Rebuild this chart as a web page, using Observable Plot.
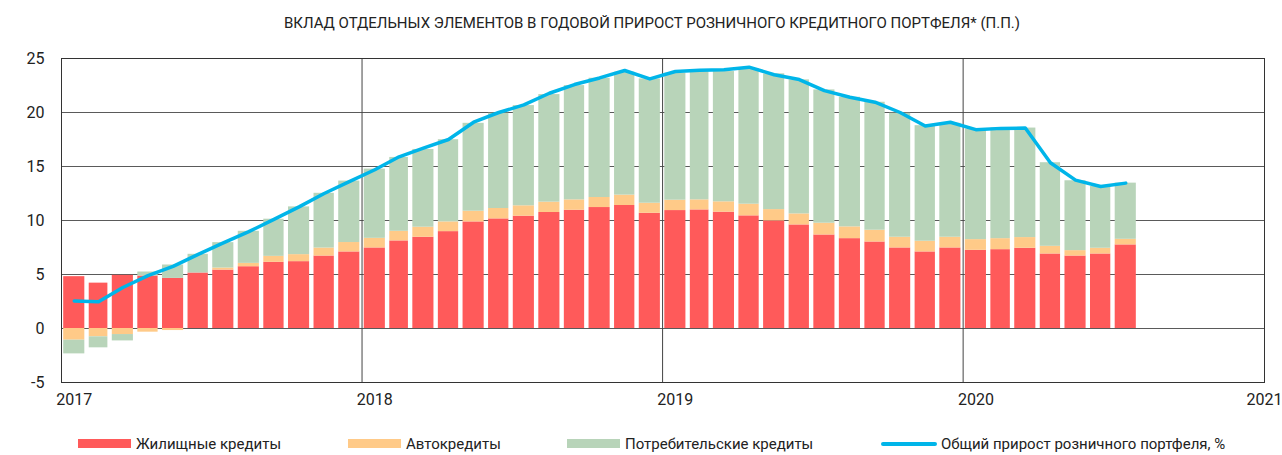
<!DOCTYPE html>
<html><head><meta charset="utf-8">
<script src="https://cdn.jsdelivr.net/npm/d3@7"></script>
<script src="https://cdn.jsdelivr.net/npm/@observablehq/plot@0.6"></script>
<style>
body{margin:0;background:#fff;font-family:Roboto,sans-serif;color:#222;overflow:hidden;width:1282px;height:455px;position:relative;}
#title{height:40px;position:relative;}
#title span{position:absolute;left:652px;top:14px;transform:translateX(-50%);white-space:nowrap;font-size:15px;line-height:18px;color:#222;}
#chart{height:385px;}
#chart svg{display:block;}
#legend{position:relative;height:30px;font-size:15px;color:#222;}
.sw{position:absolute;top:14px;height:9px;width:53px;}
.ln{position:absolute;top:17px;height:4px;width:56px;border-radius:2px;}
.lt{position:absolute;top:10px;line-height:18px;white-space:nowrap;}
</style></head>
<body>
<div id="title"><span>ВКЛАД ОТДЕЛЬНЫХ ЭЛЕМЕНТОВ В ГОДОВОЙ ПРИРОСТ РОЗНИЧНОГО КРЕДИТНОГО ПОРТФЕЛЯ* (П.П.)</span></div>
<div id="chart"></div>
<div id="legend"></div>
<script>
const months = ["2017-01","2017-02","2017-03","2017-04","2017-05","2017-06","2017-07","2017-08","2017-09","2017-10","2017-11","2017-12",
"2018-01","2018-02","2018-03","2018-04","2018-05","2018-06","2018-07","2018-08","2018-09","2018-10","2018-11","2018-12",
"2019-01","2019-02","2019-03","2019-04","2019-05","2019-06","2019-07","2019-08","2019-09","2019-10","2019-11","2019-12",
"2020-01","2020-02","2020-03","2020-04","2020-05","2020-06","2020-07"];
const seriesNames = ["Жилищные кредиты","Автокредиты","Потребительские кредиты"];
const lineName = "Общий прирост розничного портфеля, %";
const housing = [4.80,4.20,4.92,4.86,4.64,5.14,5.41,5.72,6.13,6.19,6.71,7.09,
7.46,8.11,8.45,8.97,9.87,10.15,10.40,10.74,10.95,11.20,11.39,10.67,
10.92,10.98,10.77,10.43,9.96,9.59,8.66,8.32,8.01,7.46,7.09,7.46,
7.24,7.30,7.43,6.90,6.71,6.90,7.74];
const auto = [-1.08,-0.77,-0.56,-0.34,-0.19,0.00,0.19,0.31,0.55,0.65,0.74,0.87,
0.89,0.89,0.93,0.90,0.99,0.96,0.96,0.96,0.96,0.93,0.96,0.93,
0.96,0.93,0.96,1.08,1.05,1.02,1.09,1.09,1.09,0.99,0.99,0.99,
0.99,1.02,0.99,0.71,0.50,0.53,0.52];
const consumer = [-1.27,-1.02,-0.59,0.37,1.24,1.73,2.35,2.97,3.44,4.42,5.07,5.69,
6.41,6.84,7.20,7.61,8.14,8.82,9.28,9.96,10.58,11.04,11.38,11.51,
11.76,11.88,12.06,12.53,12.57,12.41,12.34,12.00,11.85,11.48,10.70,10.55,
10.24,10.24,10.14,7.74,6.47,5.72,5.20];
const total = [2.54,2.48,3.80,4.90,5.75,6.87,7.92,8.97,10.10,11.26,12.50,13.60,
14.70,15.90,16.70,17.50,19.10,20.00,20.70,21.78,22.59,23.20,23.89,23.11,
23.80,23.92,23.95,24.20,23.50,23.05,22.03,21.41,20.95,20.00,18.75,19.10,
18.41,18.53,18.56,15.35,13.74,13.15,13.46];
const yearLabels = ["2017","2018","2019","2020","2021"];
const yTicks = [-5,0,5,10,15,20,25];
const gridValues = [0,5,10,15,20];
const colors = ["#ff5a5a","#ffca88","#b8d4b9"];
const lineColor = "#00b5e9";

const values = [housing, auto, consumer];
const parse = s => new Date(s + "-01T00:00:00Z");
const rows = [];
const lineRows = [];
months.forEach((m, i) => {
  const start = parse(m), end = d3.utcMonth.offset(start, 1);
  let pos = 0, neg = 0;
  values.forEach((arr, k) => {
    const v = arr[i];
    let y1, y2;
    if (v >= 0) { y1 = pos; y2 = pos + v; pos = y2; } else { y1 = neg; y2 = neg + v; neg = y2; }
    rows.push({start, end, y1, y2, series: seriesNames[k]});
  });
  lineRows.push({mid: new Date((+start + +end) / 2), total: total[i]});
});
const yearDates = yearLabels.map(y => new Date(y + "-01-01T00:00:00Z"));
const labelRows = yearLabels.map((y, i) => ({
  label: y,
  pos: i < yearLabels.length - 1 ? new Date((+yearDates[i] + +d3.utcMonth.offset(yearDates[i], 1)) / 2) : yearDates[i]
}));

const chart = Plot.plot({
  width: 1282, height: 385,
  marginTop: 18, marginBottom: 43, marginLeft: 61, marginRight: 18,
  style: {fontFamily: "Roboto, sans-serif", fontSize: "16px", color: "#222", background: "#fff"},
  x: {type: "utc", domain: [yearDates[0], yearDates[yearDates.length - 1]], axis: null},
  y: {domain: [-5, 25], axis: null},
  color: {domain: seriesNames, range: colors},
  marks: [
    Plot.ruleY(gridValues, {stroke: "#5a5a5a", strokeWidth: 1}),
    Plot.ruleX(yearDates.slice(1, -1), {stroke: "#444", strokeWidth: 1}),
    Plot.rect(rows, {x1: "start", x2: "end", y1: "y1", y2: "y2", fill: "series", insetLeft: 2.2, insetRight: 2.2}),
    Plot.line(lineRows, {x: "mid", y: "total", stroke: lineColor, strokeWidth: 3.5, strokeLinejoin: "round", strokeLinecap: "round"}),
    Plot.frame({stroke: "#333", strokeWidth: 1}),
    Plot.axisY(yTicks, {tickSize: 0, tickPadding: 17, fontSize: 16, fill: "#222", tickFormat: d => String(d)}),
    Plot.text(labelRows, {x: "pos", text: "label", frameAnchor: "bottom", dy: 22, fontSize: 16, fill: "#222"})
  ]
});
document.getElementById("chart").appendChild(chart);

const legend = document.getElementById("legend");
const items = [
  {kind: "sw", color: colors[0], sx: 78, tx: 136, text: seriesNames[0]},
  {kind: "sw", color: colors[1], sx: 348, tx: 406, text: seriesNames[1]},
  {kind: "sw", color: colors[2], sx: 567, tx: 625, text: seriesNames[2]},
  {kind: "ln", color: lineColor, sx: 881, tx: 941, text: lineName}
];
items.forEach(it => {
  const s = document.createElement("div");
  s.className = it.kind; s.style.left = it.sx + "px"; s.style.background = it.color;
  legend.appendChild(s);
  const t = document.createElement("div");
  t.className = "lt"; t.style.left = it.tx + "px"; t.textContent = it.text;
  legend.appendChild(t);
});
</script>
</body></html>
